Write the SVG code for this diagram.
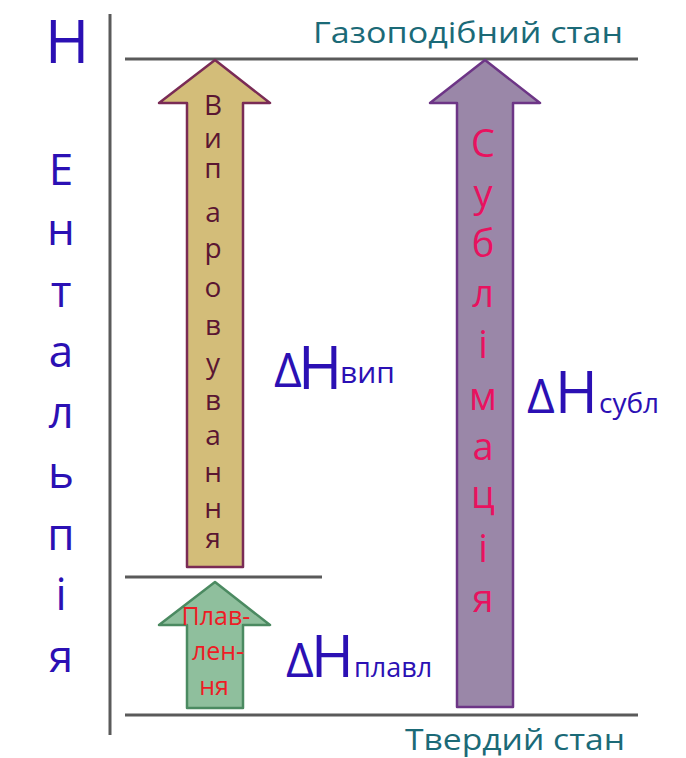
<svg xmlns="http://www.w3.org/2000/svg" width="686" height="758" viewBox="0 0 686 758">
<style>
  text { font-family: "Open Sans", "Noto Sans", "DejaVu Sans", sans-serif; }
  .blue { fill: #2b10b4; }
  .teal { fill: #1b6a77; font-size: 30px; font-weight: 500; }
  .line { stroke: #5a5a5a; stroke-width: 3; fill: none; }
  .arrow { stroke-width: 2.5; stroke-linejoin: round; }
  .vap { fill: #d3bd79; stroke: #7a2b55; }
  .sub { fill: #9a87a8; stroke: #6d3586; }
  .melt { fill: #8fbf9d; stroke: #4b8a61; }
  .vtxt { fill: #5a1632; font-size: 28px; text-anchor: middle; font-weight: 500; }
  .stxt { fill: #e8125f; font-size: 38px; text-anchor: middle; }
  .mtxt { fill: #ee1c25; font-size: 25px; text-anchor: middle; font-weight: 500; }
  .axis { font-size: 44px; text-anchor: middle; font-weight: 500; }
</style>
<rect width="686" height="758" fill="#ffffff"/>

<g id="connectors">
  <line class="line" x1="110" y1="14" x2="110" y2="735"/>
  <line class="line" x1="125" y1="59" x2="638" y2="59"/>
  <line class="line" x1="125" y1="577" x2="322" y2="577"/>
  <line class="line" x1="125" y1="715" x2="638" y2="715"/>
</g>

<g id="axis-label">
  <text class="blue" x="67" y="63" font-size="60" font-weight="500" text-anchor="middle">Н</text>
  <text class="blue axis" x="61" y="185">Е</text>
  <text class="blue axis" x="61" y="245">н</text>
  <text class="blue axis" x="61" y="307">т</text>
  <text class="blue axis" x="61" y="367">а</text>
  <text class="blue axis" x="61" y="428">л</text>
  <text class="blue axis" x="61" y="488">ь</text>
  <text class="blue axis" x="61" y="550">п</text>
  <text class="blue axis" x="61" y="610">і</text>
  <text class="blue axis" x="61" y="672">я</text>
</g>

<g id="gas-label">
  <text class="teal" x="313" y="43" textLength="310" lengthAdjust="spacingAndGlyphs">Газоподібний стан</text>
</g>
<g id="solid-label">
  <text class="teal" x="405" y="750" textLength="220" lengthAdjust="spacingAndGlyphs">Твердий стан</text>
</g>

<g id="vaporization">
  <polygon class="arrow vap" points="215,60 270,103 243,103 243,567 187,567 187,103 159,103"/>
  <text class="vtxt" x="213" y="115">В</text>
  <text class="vtxt" x="213" y="148">и</text>
  <text class="vtxt" x="213" y="178">п</text>
  <text class="vtxt" x="213" y="222">а</text>
  <text class="vtxt" x="213" y="258">р</text>
  <text class="vtxt" x="213" y="297">о</text>
  <text class="vtxt" x="213" y="335">в</text>
  <text class="vtxt" x="213" y="373">у</text>
  <text class="vtxt" x="213" y="410">в</text>
  <text class="vtxt" x="213" y="445">а</text>
  <text class="vtxt" x="213" y="482">н</text>
  <text class="vtxt" x="213" y="518">н</text>
  <text class="vtxt" x="213" y="548">я</text>
</g>

<g id="sublimation">
  <polygon class="arrow sub" points="485,60 540,103 513,103 513,707 457,707 457,103 430,103"/>
  <text class="stxt" x="483" y="157">С</text>
  <text class="stxt" x="483" y="207">у</text>
  <text class="stxt" x="483" y="257">б</text>
  <text class="stxt" x="483" y="307">л</text>
  <text class="stxt" x="483" y="358">і</text>
  <text class="stxt" x="483" y="410">м</text>
  <text class="stxt" x="483" y="460">а</text>
  <text class="stxt" x="483" y="508">ц</text>
  <text class="stxt" x="483" y="562">і</text>
  <text class="stxt" x="483" y="612">я</text>
</g>

<g id="melting">
  <polygon class="arrow melt" points="215,582 270,625 243,625 243,708 187,708 187,625 159,625"/>
  <text class="mtxt" x="216" y="625">Плав-</text>
  <text class="mtxt" x="218" y="660">лен-</text>
  <text class="mtxt" x="214" y="695">ня</text>
</g>

<g id="dH-vap">
  <text class="blue" x="274" y="387" font-size="48">Δ</text>
  <text class="blue" x="298" y="389" font-size="60" font-weight="500">H</text>
  <text class="blue" x="340" y="383" font-size="30" font-weight="500">вип</text>
</g>
<g id="dH-sub">
  <text class="blue" x="527" y="413" font-size="48">Δ</text>
  <text class="blue" x="555" y="413" font-size="58" font-weight="500">H</text>
  <text class="blue" x="599" y="413" font-size="28" font-weight="500">субл</text>
</g>
<g id="dH-melt">
  <text class="blue" x="286" y="677" font-size="48">Δ</text>
  <text class="blue" x="311" y="677" font-size="58" font-weight="500">H</text>
  <text class="blue" x="354" y="677" font-size="27" font-weight="500">плавл</text>
</g>
</svg>
